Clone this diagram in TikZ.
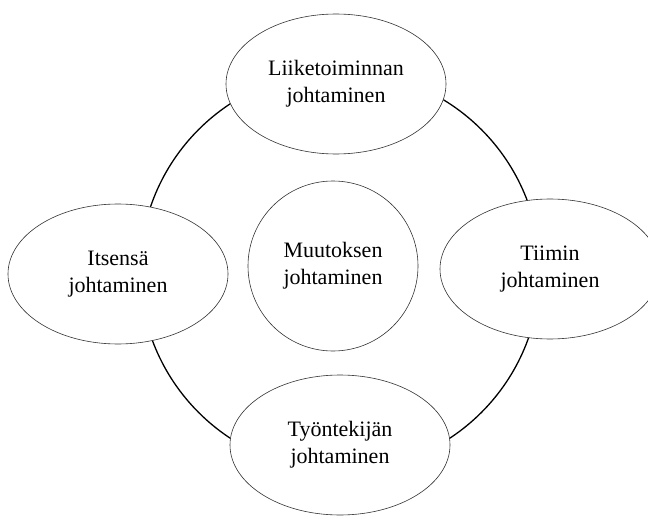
\documentclass[tikz,border=0pt]{standalone}
\usepackage{fontspec}
\setmainfont{Liberation Serif}
\usetikzlibrary{shapes.geometric}

\begin{document}
\begin{tikzpicture}[line cap=round,line join=round,x=1pt,y=-1pt,
	alue/.style={draw=black!80,line width=0.6pt,fill=white,ellipse,minimum width=220pt,minimum height=140pt,inner sep=0pt,align=center,font=\fontsize{22}{27}\selectfont}]
			\clip(0,0) rectangle (648,516);
			% kehä
			\node [draw,circle,line width=1.3pt,minimum size=400pt,inner sep=0pt] (kehae) at (340,271) {};
			\node [alue] (liiketoiminta) at (336,84) {Liiketoiminnan\\johtaminen};
			\node [alue] (itse) at (118,274) {Itsensä\\johtaminen};
			\node [alue] (tiimi) at (550,269) {Tiimin\\johtaminen};
			\node [alue] (tyontekija) at (340,445) {Työntekijän\\johtaminen};
			\node [alue,circle,minimum size=170pt] (muutos) at (333,266) {Muutoksen\\johtaminen};
			\end{tikzpicture}
\end{document}
